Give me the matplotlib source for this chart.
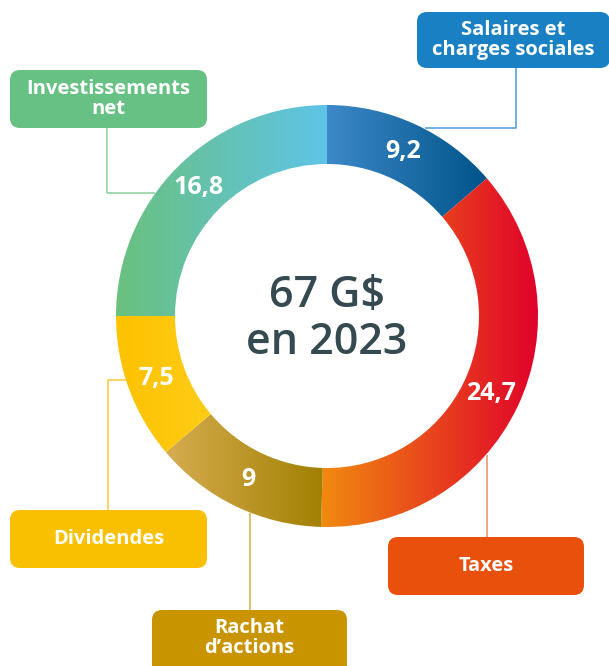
import matplotlib
matplotlib.use("Agg")
import matplotlib.pyplot as plt
import numpy as np
from matplotlib.colors import LinearSegmentedColormap
from matplotlib.patches import FancyBboxPatch

# Répartition de la valeur créée (G$)
categories = ["Salaires et\ncharges sociales", "Taxes", "Rachat\nd\u2019actions",
              "Dividendes", "Investissements\nnet"]
values = [9.2, 24.7, 9, 7.5, 16.8]
value_labels = ["9,2", "24,7", "9", "7,5", "16,8"]
center_lines = ["67 G$", "en 2023"]

# gradient ends (left -> right) for each ring segment
seg_grad = [("#3d88c8", "#00548a"),
            ("#f18a10", "#e0002b"),
            ("#d6ac50", "#a07f00"),
            ("#fdc200", "#ffd934"),
            ("#6ac07e", "#5fc4e8")]
box_colors = ["#1a80c4", "#e8500c", "#c89500", "#f8c000", "#68c184"]
line_colors = ["#4a9bd6", "#ee8a5a", "#d6b04a", "#f8c640", "#86cf9e"]

W, H = 609, 666
FONT = ["Open Sans", "DejaVu Sans"]

fig = plt.figure(figsize=(W / 100, H / 100), dpi=100)
ax = fig.add_axes([0, 0, 1, 1])


def Y(y):
    # layout is measured from the top edge
    return H - y


cx, cy = 327, Y(316)
R, ring = 211, 59

wedges, _ = ax.pie(values, startangle=90, counterclock=False, radius=R,
                   center=(cx, cy), wedgeprops=dict(width=ring, linewidth=0),
                   frame=True)

# fill each segment with a horizontal gradient clipped to its wedge
for w, (c0, c1) in zip(wedges, seg_grad):
    w.set_facecolor("none")
    cmap = LinearSegmentedColormap.from_list("g", [c0, c1])
    verts = w.get_path().vertices
    x0, x1 = verts[:, 0].min(), verts[:, 0].max()
    y0, y1 = verts[:, 1].min(), verts[:, 1].max()
    grad = np.linspace(0, 1, 256).reshape(1, -1)
    im = ax.imshow(grad, cmap=cmap, extent=(x0, x1, y0, y1), aspect="auto",
                   interpolation="bilinear", zorder=1)
    im.set_clip_path(w)

# value labels in the middle of the ring
r_mid = R - ring / 2
for w, lab in zip(wedges, value_labels):
    ang = np.deg2rad((w.theta1 + w.theta2) / 2)
    ax.text(cx + r_mid * np.cos(ang), cy + r_mid * np.sin(ang), lab,
            ha="center", va="center", color="white", fontsize=18,
            fontweight="bold", family=FONT, zorder=3)

ax.text(cx, Y(295), center_lines[0], ha="center", va="center",
        color="#354a50", fontsize=31, fontweight="semibold", family=FONT)
ax.text(cx, Y(342), center_lines[1], ha="center", va="center",
        color="#354a50", fontsize=31, fontweight="semibold", family=FONT)

# label boxes: (x0, y0, x1, y1) in pixels from top-left, and connector paths
boxes = [(417, 12, 610, 68), (388, 537, 584, 595), (152, 610, 347, 680),
         (10, 510, 207, 568), (10, 70, 207, 128)]
connectors = [[(516, 68), (516, 128), (425, 128)],
              [(487, 537), (487, 455)],
              [(250, 610), (250, 513)],
              [(108, 510), (108, 380), (127, 380)],
              [(107, 128), (107, 193), (155, 193)]]

for (bx0, by0, bx1, by1), col, lcol, text, path in zip(
        boxes, box_colors, line_colors, categories, connectors):
    xs = [p[0] for p in path]
    ys = [Y(p[1]) for p in path]
    ax.plot(xs, ys, color=lcol, lw=1.1, zorder=0.5, solid_capstyle="butt")
    ax.add_patch(FancyBboxPatch((bx0, Y(by1)), bx1 - bx0, by1 - by0,
                                boxstyle="round,pad=0,rounding_size=10",
                                facecolor=col, edgecolor="none", zorder=2))
    tcy = (by0 + min(by1, H)) / 2
    ax.text((bx0 + min(bx1, W)) / 2, Y(tcy), text, ha="center", va="center",
            color="white", fontsize=14.5, fontweight="bold", family=FONT,
            linespacing=1.05, zorder=3)

ax.set_xlim(0, W)
ax.set_ylim(0, H)
ax.set_aspect("auto")
ax.axis("off")

fig.savefig("out.png", dpi=100, facecolor="white")
